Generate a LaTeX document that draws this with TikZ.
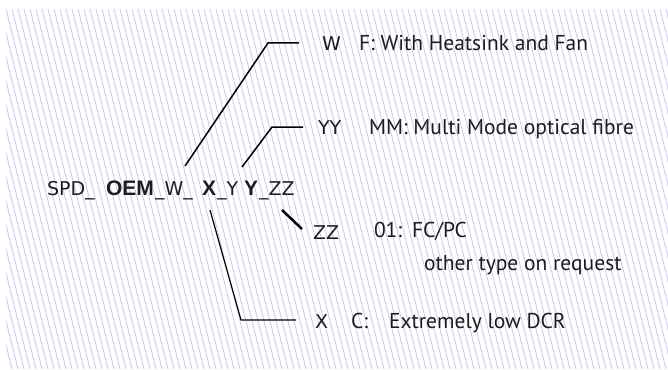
\documentclass[tikz,border=0pt]{standalone}
\usepackage{fontspec}
\setmainfont{PT Sans}
\newfontfamily\codefont{DejaVu Sans}
\newfontfamily\arialfont{Liberation Sans}
\definecolor{hatchc}{RGB}{198,198,240}
\definecolor{ink}{RGB}{30,28,30}
\begin{document}
\begin{tikzpicture}[x=1pt,y=-1pt,
  hatch/.style={draw=hatchc,line width=0.8pt},
  desc/.style={anchor=base west,inner sep=0pt,outer sep=0pt,text=ink,font=\fontsize{21.5}{25}\selectfont},
  code/.style={anchor=base west,inner sep=0pt,outer sep=0pt,text=ink,font=\codefont\fontsize{19}{23}\selectfont},
  codeb/.style={anchor=base west,inner sep=0pt,outer sep=0pt,text=ink,font=\arialfont\bfseries\fontsize{21}{25}\selectfont},
  lead/.style={draw=black,line width=1.5pt},
  leadthin/.style={draw=black,line width=1.2pt},
  leadthick/.style={draw=black,line width=2.5pt}]
\useasboundingbox (0,0) rectangle (668,369);
\fill[white] (0,0) rectangle (668,369);
\begin{scope}
  \clip (6,9) rectangle (668,369);
  \foreach \i in {-20,...,115} \draw[hatch] (\i*6,9) -- ++(90,360);
\end{scope}
% code line
\node[code]  (spd) at (47,195) {SPD\_};
\node[codeb] (oem) at (106,195) {OEM};
\node[code]  (w)   at (155,195) {\_W\_};
\node[codeb] (x)   at (202,195) {X};
\node[code]  (y1)  at (217,195) {\_Y};
\node[codeb] (y2)  at (244,195) {Y};
\node[code]  (zz)  at (259,195) {\_ZZ};
% labels
\node[code] (lw)  at (322,50)  {W};
\node[desc] (dw)  at (359,51)  {F: With Heatsink and Fan};
\node[code] (ly)  at (318,134) {YY};
\node[desc] (dy)  at (369,134) {MM: Multi Mode optical fibre};
\node[code] (lz)  at (313,239) {ZZ};
\node[desc] (dz1) at (374,237) {01:};
\node[desc] (dz2) at (412,237) {FC/PC};
\node[desc] (dz3) at (424,270) {other type on request};
\node[code] (lx)  at (315,328) {X};
\node[desc] (dx1) at (351,328) {C:};
\node[desc] (dx2) at (389,328) {Extremely low DCR};
% leader coordinates
\coordinate (wa) at (185,166); \coordinate (wb) at (268,43);  \coordinate (wc) at (299,43);
\coordinate (ya) at (242,167); \coordinate (yb) at (272,127); \coordinate (yc) at (303,127);
\coordinate (xa) at (210,210); \coordinate (xb) at (241,320); \coordinate (xc) at (296,320);
\coordinate (za) at (282,210); \coordinate (zb) at (302,229);
\draw[lead] (wa) -- (wb) -- (wc);
\draw[lead] (ya) -- (yb) -- (yc);
\draw[leadthin] (xa) -- (xb) -- (xc);
\draw[leadthick] (za) -- (zb);
\end{tikzpicture}
\end{document}
